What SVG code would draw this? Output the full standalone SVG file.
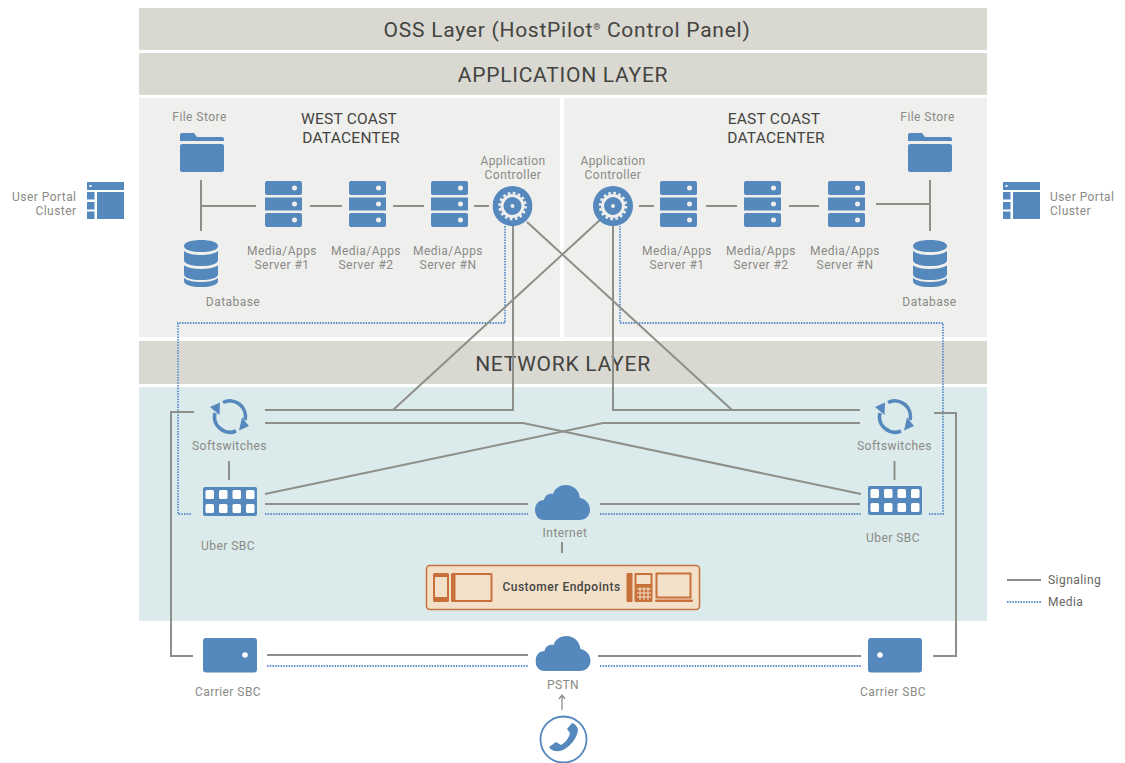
<svg xmlns="http://www.w3.org/2000/svg" xmlns:xlink="http://www.w3.org/1999/xlink" width="1125" height="763" viewBox="0 0 1125 763">
<style>
text{font-family:"Roboto","Liberation Sans",sans-serif}
.lb{font-size:12px;fill:#8a8a86;text-anchor:middle;letter-spacing:.45px}
.dc{font-size:15.5px;fill:#444441;text-anchor:middle;letter-spacing:.25px}
.band{font-size:21px;fill:#444441;text-anchor:middle;letter-spacing:.75px}
.sig{fill:none;stroke:#8f8f89;stroke-width:2}
.med{fill:none;stroke:#5b92cc;stroke-width:1.800;stroke-dasharray:1.500 1.200}
.bl{fill:#5588bd}
.or{fill:#c8703a}
</style>
<defs>
<symbol id="server" width="38" height="46" viewBox="0 0 38 46"><rect class="bl" width="37" height="14" rx="2"/><rect class="bl" y="16.500" width="37" height="13"/><rect class="bl" y="32" width="37" height="14" rx="2"/><g fill="#efefed"><circle cx="29.500" cy="7" r="2.500"/><circle cx="29.500" cy="23" r="2.500"/><circle cx="29.500" cy="39" r="2.500"/></g></symbol>
<symbol id="folder" width="44" height="39" viewBox="0 0 44 39"><path class="bl" d="M0 8V2Q0 0 2 0H14L17 4H42Q44 4 44 6V8Z"/><rect class="bl" y="11" width="44" height="28" rx="2"/></symbol>
<symbol id="db" width="34" height="47" viewBox="0 0 34 47"><g class="bl"><path d="M0 6C0 2 8 0 17 0S34 2 34 6 26 12 17 12 0 10 0 6Z"/><path d="M0 11C4 14 10 15 17 15S30 14 34 11V20C34 24 26 26 17 26S0 24 0 20Z"/><path d="M0 25.500C4 28 10 29 17 29S30 28 34 25.500V34C34 38 26 40 17 40S0 38 0 34Z"/><path d="M0 38C4 41 10 42 17 42S30 41 34 38V41C34 45 26 47 17 47S0 45 0 41Z"/></g></symbol>
<symbol id="portal" width="37" height="37" viewBox="0 0 37 37"><g class="bl"><rect width="37" height="8"/><rect y="10" width="7.500" height="7.500"/><rect y="20" width="7.500" height="7.500"/><rect y="29.500" width="7.500" height="7.500"/><rect x="10" y="10" width="27" height="27"/></g><rect x="2.500" y="3" width="2" height="2" fill="#fff"/></symbol>
<symbol id="ctrl" width="40" height="40" viewBox="0 0 40 40"><circle class="bl" cx="20" cy="20" r="20"/><circle cx="20" cy="20" r="10.500" fill="none" stroke="#efefed" stroke-width="3"/><circle cx="20" cy="20" r="13" fill="none" stroke="#efefed" stroke-width="2.500" stroke-dasharray="2.600 2.500"/><circle cx="20" cy="20" r="2" fill="#efefed"/></symbol>
<symbol id="soft" width="42" height="38" viewBox="0 0 42 38"><g fill="none" stroke="#5588bd" stroke-width="3.600"><path d="M6 15A15.500 15.500 0 0 0 27 33"/><path d="M14 4.500A15.500 15.500 0 0 1 36 22"/></g><g class="bl"><path d="M1 9L11 4.500 10.500 17Z"/><path d="M33 19.500L40 28 30 32.500Z"/></g></symbol>
<symbol id="uber" width="54" height="30" viewBox="0 0 54 30"><rect class="bl" width="54" height="29" rx="2"/><g fill="#fff"><rect x="2.500" y="3" width="8.500" height="9" rx="1.500"/><rect x="16" y="3" width="8.500" height="9" rx="1.500"/><rect x="29.500" y="3" width="8.500" height="9" rx="1.500"/><rect x="43" y="3" width="8.500" height="9" rx="1.500"/><rect x="2.500" y="17" width="8.500" height="9" rx="1.500"/><rect x="16" y="17" width="8.500" height="9" rx="1.500"/><rect x="29.500" y="17" width="8.500" height="9" rx="1.500"/><rect x="43" y="17" width="8.500" height="9" rx="1.500"/></g></symbol>
<symbol id="cloud" width="56" height="36" viewBox="0 0 56 36"><path class="bl" d="M9 35C3 35 0 30 0 25 0 19 4 15 9 15 10 10 14 8 18 9 20 3 25 0 31 0 38 0 44 5 45 13 51 14 55 19 55 25 55 31 50 35 45 35Z"/></symbol>
<symbol id="carrier" width="54" height="35" viewBox="0 0 54 35"><rect class="bl" width="54" height="34.500" rx="3"/></symbol>
</defs>

<g id="oss-layer"><rect x="139" y="8" width="848" height="42" fill="#d9d8d1"/><text class="band" x="567" y="37">OSS Layer (HostPilot<tspan font-size="9" dy="-7">®</tspan><tspan dy="7"> Control Panel)</tspan></text></g>
<g id="application-layer"><rect x="139" y="53" width="848" height="42" fill="#d9d8d1"/><text class="band" x="563" y="82">APPLICATION LAYER</text></g>
<g id="west-panel"><rect x="139" y="98" width="421" height="239" fill="#efefed"/><text class="dc" x="349" y="124">WEST COAST</text><text class="dc" x="351" y="143">DATACENTER</text></g>
<g id="east-panel"><rect x="564" y="98" width="423" height="239" fill="#efefed"/><text class="dc" x="774" y="124">EAST COAST</text><text class="dc" x="776" y="143">DATACENTER</text></g>
<g id="network-layer"><rect x="139" y="341" width="848" height="43" fill="#d9d8d1"/><rect x="139" y="387" width="848" height="234" fill="#dbeaea"/><text class="band" x="563" y="371">NETWORK LAYER</text></g>

<g id="connectors">
<path class="sig" d="M201 180V231M201 206H256M310 206H342M393 206H424M474 206H489"/>
<path class="sig" d="M639 206H654M706 206H737M789 206H819M876 204H930M930 180V231"/>
<path class="med" d="M505 226V323H178V514H192M265 514H528M600 514H861M929 514H943V323H620V226"/>
<path class="sig" d="M265 410H513V225M393 410L601 219"/>
<path class="sig" d="M860 410H613V225M732 410L527 222"/>
<path class="sig" d="M265 423H523L861 494"/>
<path class="sig" d="M860 423H603L265 494"/>
<path class="sig" d="M265 504H528M600 504H860"/>
<path class="sig" d="M229 461V480M894.500 461V480M562 542V553"/>
<path class="sig" d="M194 412H171V656H193M934 413H956V656H933"/>
<path class="sig" d="M267 655H528M598 656H861"/>
<path class="med" d="M267 666H528M600 666H861"/>
<path class="sig" style="stroke-width:1.300" d="M562 710V696M559 699L562 695 565 699"/>
<path class="sig" d="M1007 580H1041"/>
<path class="med" d="M1007 602H1041"/>
</g>

<g id="portal-west"><use href="#portal" x="87" y="182"/><text class="lb" style="text-anchor:end" x="76.500" y="201">User Portal</text><text class="lb" style="text-anchor:end" x="76.500" y="215">Cluster</text></g>
<g id="portal-east"><use href="#portal" x="1003" y="182"/><text class="lb" style="text-anchor:start" x="1050" y="201">User Portal</text><text class="lb" style="text-anchor:start" x="1050" y="215">Cluster</text></g>

<g id="filestore-west"><use href="#folder" x="180" y="133"/><text class="lb" x="199.500" y="121">File Store</text></g>
<g id="database-west"><use href="#db" x="184" y="240"/><text class="lb" x="233" y="306">Database</text></g>
<g id="server-w1"><use href="#server" x="265" y="181"/><text class="lb" x="282" y="255">Media/Apps</text><text class="lb" x="282" y="269">Server #1</text></g>
<g id="server-w2"><use href="#server" x="349" y="181"/><text class="lb" x="366" y="255">Media/Apps</text><text class="lb" x="366" y="269">Server #2</text></g>
<g id="server-wn"><use href="#server" x="431" y="181"/><text class="lb" x="448" y="255">Media/Apps</text><text class="lb" x="448" y="269">Server #N</text></g>
<g id="controller-west"><use href="#ctrl" x="492.500" y="186"/><text class="lb" x="513" y="165">Application</text><text class="lb" x="513" y="179">Controller</text></g>

<g id="filestore-east"><use href="#folder" x="908" y="133"/><text class="lb" x="927.500" y="121">File Store</text></g>
<g id="database-east"><use href="#db" x="913" y="240"/><text class="lb" x="929.500" y="306">Database</text></g>
<g id="server-e1"><use href="#server" x="660" y="181"/><text class="lb" x="677" y="255">Media/Apps</text><text class="lb" x="677" y="269">Server #1</text></g>
<g id="server-e2"><use href="#server" x="744" y="181"/><text class="lb" x="761" y="255">Media/Apps</text><text class="lb" x="761" y="269">Server #2</text></g>
<g id="server-en"><use href="#server" x="828" y="181"/><text class="lb" x="845" y="255">Media/Apps</text><text class="lb" x="845" y="269">Server #N</text></g>
<g id="controller-east"><use href="#ctrl" x="593" y="186"/><text class="lb" x="613" y="165">Application</text><text class="lb" x="613" y="179">Controller</text></g>

<g id="softswitch-west"><use href="#soft" x="209" y="398"/><text class="lb" x="229.500" y="450">Softswitches</text></g>
<g id="softswitch-east"><use href="#soft" x="874" y="398"/><text class="lb" x="894.500" y="450">Softswitches</text></g>
<g id="uber-west"><use href="#uber" x="203" y="487"/><text class="lb" x="228" y="550">Uber SBC</text></g>
<g id="uber-east"><use href="#uber" x="868" y="486"/><text class="lb" x="893" y="542">Uber SBC</text></g>
<g id="internet"><use href="#cloud" x="535" y="485"/><text class="lb" x="565" y="537">Internet</text></g>

<g id="customer-endpoints">
<rect x="426.500" y="565.500" width="273" height="44" rx="3.500" fill="#f2e0c9" stroke="#c8703a" stroke-width="1.500"/>
<rect class="or" x="433" y="573" width="16" height="29" rx="1.500"/><rect x="435" y="577" width="12" height="20" fill="#f2e0c9"/>
<rect class="or" x="451" y="573" width="41.500" height="29" rx="1.500"/><rect x="455.500" y="575" width="35" height="25" fill="#f2e0c9"/>
<text x="561.500" y="591" font-size="12" fill="#444441" text-anchor="middle" letter-spacing=".5" font-weight="500">Customer Endpoints</text>
<rect class="or" x="626.500" y="573" width="6" height="29" rx="1"/>
<rect class="or" x="634.500" y="573" width="18" height="29" rx="1"/><rect x="636.500" y="575" width="14" height="9" fill="#f2e0c9"/>
<path d="M637 589H651M637 593H651M637 597H651M640 587V600M644 587V600M648 587V600" stroke="#f2e0c9" stroke-width="1" fill="none"/>
<rect x="656.500" y="573.500" width="34" height="24" fill="none" stroke="#c8703a" stroke-width="2"/>
<rect class="or" x="655" y="599.500" width="38" height="2.500" rx="1"/>
</g>

<g id="carrier-west"><use href="#carrier" x="203" y="638"/><circle cx="245" cy="655" r="2.800" fill="#fff"/><text class="lb" x="228" y="696">Carrier SBC</text></g>
<g id="carrier-east"><use href="#carrier" x="868" y="638"/><circle cx="880" cy="655" r="2.800" fill="#fff"/><text class="lb" x="893" y="696">Carrier SBC</text></g>
<g id="pstn"><use href="#cloud" x="535.500" y="636"/><text class="lb" x="563" y="689">PSTN</text></g>
<g id="phone"><circle cx="563.500" cy="739.500" r="23" fill="#fff" stroke="#5588bd" stroke-width="1.800"/><path class="bl" d="M549 747L556 742 561 745C565 743 569 738 570 733L567 729 572 723C575 724 578 727 578 730 577 738 571 746 563 750 558 752 552 752 549 747Z"/></g>
<g id="legend"><text class="lb" style="text-anchor:start;fill:#666662" x="1048" y="584">Signaling</text><text class="lb" style="text-anchor:start;fill:#666662" x="1048" y="606">Media</text></g>
</svg>
